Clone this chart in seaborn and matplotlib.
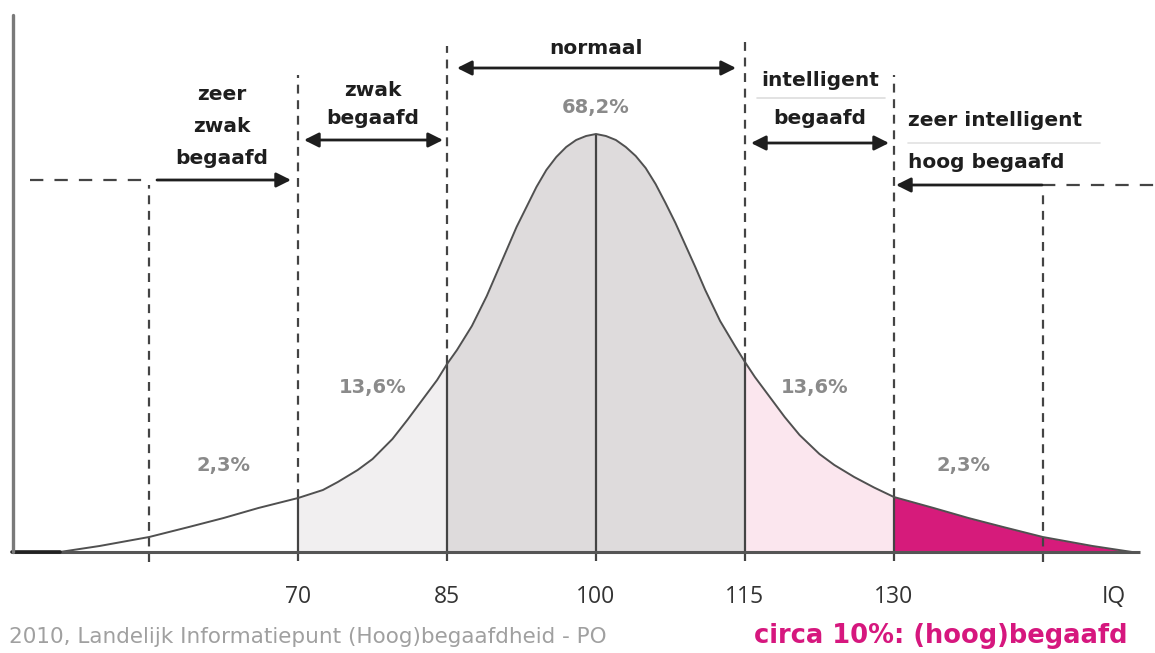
import numpy as np
import pandas as pd
import matplotlib
matplotlib.use("Agg")
import matplotlib.pyplot as plt
import seaborn as sns

# ---- data (curve height in pixels above the IQ axis) ----
iq_left = [46, 50, 55, 59, 62.5, 66, 70, 72.5, 74, 76, 77.5, 79.5, 81, 82.5, 84,
           85, 86, 87.5, 89, 90, 91, 92, 93, 94, 95, 96, 97, 98, 99, 100]
h_left = [0, 6, 15, 25, 34, 44, 54, 62, 70, 82, 93, 113, 132, 152, 172,
          188, 202, 226, 256, 279, 302, 325, 345, 365, 382, 395, 405, 412, 416, 418]
iq_right = [101, 102, 103, 104, 105, 106, 107, 108, 109, 110, 111, 112.5, 114,
            115, 116, 117.5, 119, 120.5, 122.5, 124, 126, 128, 130, 134, 137.5,
            141, 145, 150, 154]
h_right = [416, 412, 405, 396, 384, 368, 349, 329, 307, 285, 262, 231, 206,
           190, 175, 155, 135, 117, 98, 87, 75, 64.5, 55, 44, 34,
           25, 15, 6, 0]

boundaries = [70, 85, 100, 115, 130]
outer_marks = [55, 145]
tick_labels = ["70", "85", "100", "115", "130"]
band_edges = [(70, 85), (85, 115), (115, 130), (130, 154)]
band_colors = ["#f1eff0", "#dedbdc", "#fbe6ee", "#d61b7b"]
percent_labels = ["2,3%", "13,6%", "68,2%", "13,6%", "2,3%"]
percent_pos_iq = [62.5, 77.5, 100, 122, 137]

df = pd.DataFrame({"iq": iq_left + iq_right, "h": h_left + h_right})
h_at = dict(zip(df.iq, df.h))

sns.set_theme(style="white")
plt.rcParams["font.family"] = ["DejaVu Sans"]

fig = plt.figure(figsize=(11.55, 6.53), dpi=100)
ax = fig.add_axes([0, 0, 1, 1])
PX = 9.93  # pixels per IQ point


def X(px):
    return 100 + (px - 596) / PX


def Y(py):
    return 552 - py


ax.set_xlim(X(0), X(1155))
ax.set_ylim(Y(653), Y(0))
ax.axis("off")

# filled bands
for (lo, hi), c in zip(band_edges, band_colors):
    m = (df.iq >= lo) & (df.iq <= hi)
    ax.fill_between(df.iq[m], 0, df.h[m], color=c, lw=0, zorder=1)

# curve
sns.lineplot(data=df, x="iq", y="h", color="#505050", lw=1.4, ax=ax, zorder=4)

# axes lines
ax.plot([X(12), X(1140)], [0, 0], color="#555555", lw=2.2, zorder=5,
        solid_capstyle="butt")
ax.plot([X(60), X(12)], [0, 0], color="#222222", lw=2.6, zorder=5)
ax.plot([X(13), X(13)], [0, Y(15)], color="#7a7a7a", lw=2.4, zorder=5)

# solid boundary lines
for b in boundaries:
    ax.vlines(b, -9, h_at[b], color="#444444", lw=1.6, zorder=3)

# dashed lines
dash_tops = {70: Y(75), 85: Y(46), 115: Y(42), 130: Y(75)}
dash = (0, (4, 3))
for b, top in dash_tops.items():
    ax.vlines(b, h_at[b], top, color="#444444", lw=1.6, linestyles=[dash], zorder=3)
ax.vlines(outer_marks[0], -10, Y(185), color="#444444", lw=1.6, linestyles=[dash], zorder=3)
ax.vlines(outer_marks[1], -10, Y(190), color="#444444", lw=1.6, linestyles=[dash], zorder=3)

# horizontal dashed lines
ax.plot([X(30), X(150)], [Y(180), Y(180)], color="#444444", lw=1.6,
        ls=(0, (6, 5)), zorder=3)
ax.plot([X(1042), X(1155)], [Y(185), Y(185)], color="#444444", lw=1.6,
        ls=(0, (6, 5)), zorder=3)


# arrows
def arrow(x0, x1, y, style):
    ax.annotate("", xy=(X(x1), Y(y)), xytext=(X(x0), Y(y)),
                arrowprops=dict(arrowstyle=style, color="#1e1e1e", lw=2,
                                mutation_scale=22, shrinkA=0, shrinkB=0),
                zorder=6)


arrow(157, 291, 180, "-|>")
arrow(304, 443, 140, "<|-|>")
arrow(457, 736, 68, "<|-|>")
arrow(751, 889, 143, "<|-|>")
arrow(1042, 896, 185, "-|>")

# category labels
lab = dict(color="#1e1e1e", fontsize=14.5, fontweight="bold",
           family=["DejaVu Sans"], ha="center", va="center", zorder=7)
ax.text(X(222), Y(95), "zeer", **lab)
ax.text(X(222), Y(127), "zwak", **lab)
ax.text(X(222), Y(158), "begaafd", **lab)
ax.text(X(373), Y(90), "zwak", **lab)
ax.text(X(373), Y(118), "begaafd", **lab)
ax.text(X(596), Y(48), "normaal", **lab)
ax.text(X(820), Y(80), "intelligent", **lab)
ax.text(X(820), Y(119), "begaafd", **lab)
lab_l = dict(lab, ha="left")
ax.text(X(908), Y(121), "zeer intelligent", **lab_l)
ax.text(X(908), Y(163), "hoog begaafd", **lab_l)

# faint rules under some labels (as in the reference)
ax.plot([X(757), X(885)], [Y(98), Y(98)], color="#dddddd", lw=1.2, zorder=2)
ax.plot([X(908), X(1100)], [Y(143), Y(143)], color="#e2e2e2", lw=1.2, zorder=2)

# percentage labels
pct_y = [Y(465), Y(388), Y(108), Y(388), Y(465)]
for p, xq, yy in zip(percent_labels, percent_pos_iq, pct_y):
    ax.text(xq, yy, p, color="#8a8a8a", fontsize=14, fontweight="bold",
            family=["DejaVu Sans"], ha="center", va="center", zorder=7)

# tick labels
for b, t in zip(boundaries, tick_labels):
    ax.text(b, Y(597), t, color="#333333", fontsize=16.5, family=["Open Sans"],
            ha="center", va="center")
ax.text(X(1114), Y(597), "IQ", color="#333333", fontsize=16.5,
        family=["Open Sans"], ha="center", va="center")

# footer
ax.text(X(9), Y(637), "2010, Landelijk Informatiepunt (Hoog)begaafdheid - PO",
        color="#a0a0a0", fontsize=15.5, ha="left", va="center")
ax.text(X(1128), Y(636), "circa 10%: (hoog)begaafd", color="#d6177e",
        fontsize=18.5, fontweight="bold", ha="right", va="center")

fig.savefig("out.png", dpi=100)
